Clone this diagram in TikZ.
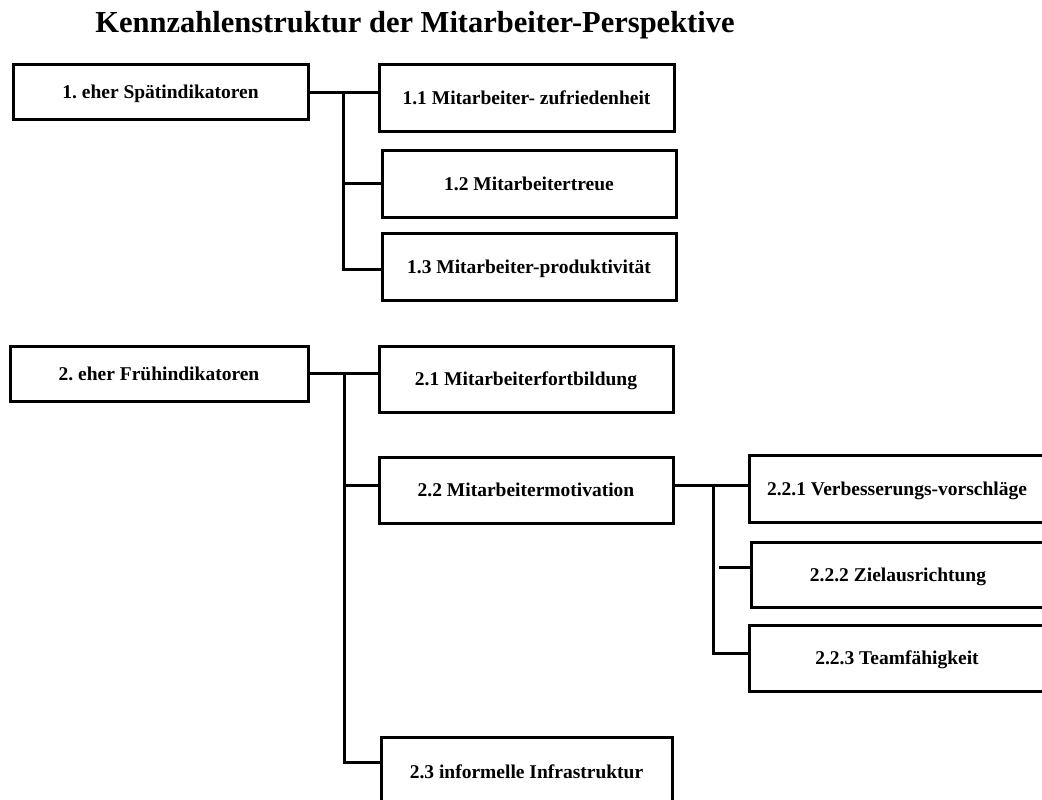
\documentclass[tikz,border=0pt]{standalone}
\usepackage{fontspec}
\setmainfont{Liberation Serif}
\frenchspacing
\begin{document}
\begin{tikzpicture}[x=1pt,y=-1pt,
  box/.style={draw=black,line width=3pt,fill=white,inner sep=0pt,
    text height=13.5pt,text depth=0pt,
    font=\fontsize{19.5}{23}\selectfont\bfseries,text=black},
  link/.style={draw=black,line width=3pt}]
\useasboundingbox (0,0) rectangle (1042,800);
\begin{scope}
\clip (0,0) rectangle (1042,800);

% heading
\node[anchor=base,font=\fontsize{30.5}{34}\selectfont\bfseries] (title) at (415,33)
  {Kennzahlenstruktur der Mitarbeiter-Perspektive};

% group 1
\node[box,minimum width=295pt,minimum height=54pt] (b1)  at (160.5,92)  {1. eher Spätindikatoren};
\node[box,minimum width=295pt,minimum height=66pt] (b11) at (526.5,98)  {1.1 Mitarbeiter- zufriedenheit};
\node[box,minimum width=294pt,minimum height=67pt] (b12) at (529,183.5) {1.2 Mitarbeitertreue};
\node[box,minimum width=294pt,minimum height=67pt] (b13) at (529,266.5) {1.3 Mitarbeiter-produktivität};

% group 2
\node[box,minimum width=298pt,minimum height=55pt] (b2)  at (159,373.5) {2. eher Frühindikatoren};
\node[box,minimum width=294pt,minimum height=66pt] (b21) at (526,379)   {2.1 Mitarbeiterfortbildung};
\node[box,minimum width=294pt,minimum height=66pt] (b22) at (526,490)   {2.2 Mitarbeitermotivation};
\node[box,minimum width=291pt,minimum height=70pt] (b23) at (526.5,772) {2.3 informelle Infrastruktur};

\node[box,minimum width=296pt,minimum height=67pt] (b221) at (897,488.5) {2.2.1 Verbesserungs-vorschläge};
\node[box,minimum width=294pt,minimum height=65pt] (b222) at (898,574.5) {2.2.2 Zielausrichtung};
\node[box,minimum width=296pt,minimum height=66pt] (b223) at (897,658)   {2.2.3 Teamfähigkeit};

% connectors of group 1
\coordinate (t1) at (343,93);
\draw[link] ([yshift=-1pt]b1.east) -- ([yshift=-1pt]b1.east -| b11.west);
\draw[link] (t1) |- ([yshift=-2.5pt]b13.west);
\draw[link] (t1 |- b12.west) -- (b12.west);

% connectors of group 2
\coordinate (t2) at (344,373.5);
\draw[link] (b2.east) -- (b2.east -| b21.west);
\draw[link] (t2) |- ([yshift=10pt]b23.west);
\draw[link] ([yshift=5pt]b22.west -| t2) -- ([yshift=5pt]b22.west);

% connectors of item 2.2
\coordinate (t3) at (713,485);
\coordinate (s2) at (719,567);
\draw[link] ([yshift=5pt]b22.east) -- ([yshift=5pt]b22.east -| b221.west);
\draw[link] (t3) |- ([yshift=5pt]b223.west);
\draw[link] (s2) -- (s2 -| b222.west);
\end{scope}
\end{tikzpicture}
\end{document}
